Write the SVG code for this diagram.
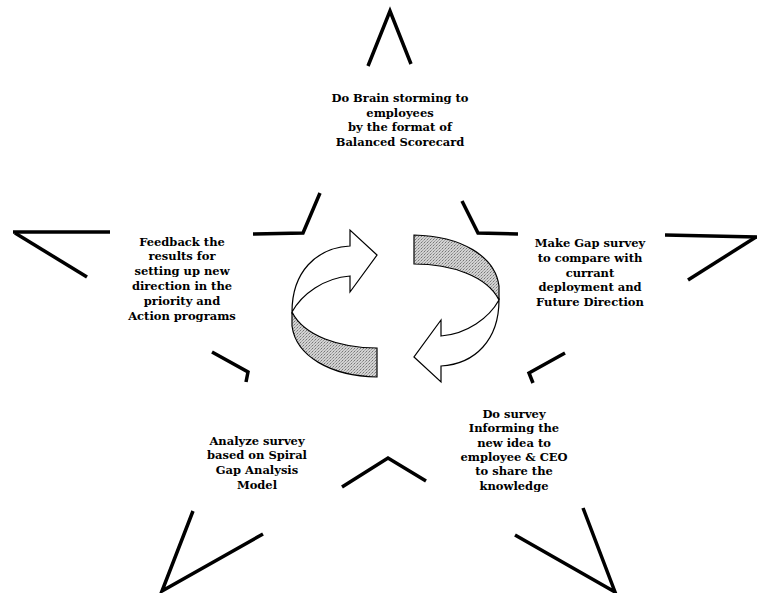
<svg xmlns="http://www.w3.org/2000/svg" xmlns:xlink="http://www.w3.org/1999/xlink" width="758" height="593" viewBox="0 0 758 593">
<style>
.star{fill:none;stroke:#000;stroke-width:3.5;stroke-linejoin:miter;stroke-miterlimit:3;stroke-linecap:butt}
.lbl{font-family:"DejaVu Serif","Liberation Serif",serif;font-weight:bold;font-size:11.5px;fill:#000;text-anchor:middle}
.wh{fill:#fff;stroke:#000;stroke-width:1.2;stroke-linejoin:miter}
.band{fill:url(#stip);stroke:#000;stroke-width:1.2}
</style>
<defs>
<pattern id="stip" width="3" height="3" patternUnits="userSpaceOnUse">
<rect width="3" height="3" fill="#d2d2d2"/>
<rect width="1" height="1" fill="#777"/>
<rect x="2" y="1" width="1" height="1" fill="#999"/>
<rect x="1" y="2" width="1" height="1" fill="#aaa"/>
</pattern>
<g id="cyc">
<path class="wh" d="M377,255 L350,230 L350,246 C 316,248 292,272 292,312 C 302,294 324,278 350,276 L350,292 Z"/>
<path class="band" d="M292,312 C 304,336 340,348 377,348 L377,377 C 330,376 296,356 292,326 Z"/>
</g>
</defs>
<rect width="758" height="593" fill="#fff"/>
<g id="star">
<polyline class="star" points="368,66 390,11 411,64"/>
<polyline class="star" points="320,193 303,233 253,234"/>
<polyline class="star" points="462,201 478,233 518,234"/>
<polyline class="star" points="110,232 13,232"/>
<polyline class="star" points="15,233 87,277"/>
<polyline class="star" points="665,235 757,237"/>
<polyline class="star" points="756,237 688,280"/>
<polyline class="star" points="212,352 248,372 246,382"/>
<polyline class="star" points="565,353 529,373 533,383"/>
<polyline class="star" points="342,487 388,458 426,481"/>
<polyline class="star" points="193,511 162,591 263,534"/>
<polyline class="star" points="583,508 615,592 515,535"/>
</g>
<g id="connectors">
<use xlink:href="#cyc"/>
<use xlink:href="#cyc" transform="rotate(180 395.5 306)"/>
</g>
<g id="node-top">
<text class="lbl" x="400" y="102">Do Brain storming to</text>
<text class="lbl" x="400" y="116.7">employees</text>
<text class="lbl" x="400" y="131.4">by the format of</text>
<text class="lbl" x="400" y="146">Balanced Scorecard</text>
</g>
<g id="node-left">
<text class="lbl" x="182" y="245.5">Feedback the</text>
<text class="lbl" x="182" y="260.4">results for</text>
<text class="lbl" x="182" y="275.3">setting up new</text>
<text class="lbl" x="182" y="290.2">direction in the</text>
<text class="lbl" x="182" y="305.1">priority and</text>
<text class="lbl" x="182" y="320">Action programs</text>
</g>
<g id="node-right">
<text class="lbl" x="590" y="247">Make Gap survey</text>
<text class="lbl" x="590" y="261.8">to compare with</text>
<text class="lbl" x="590" y="276.6">currant</text>
<text class="lbl" x="590" y="291.4">deployment and</text>
<text class="lbl" x="590" y="306.2">Future Direction</text>
</g>
<g id="node-bottom-left">
<text class="lbl" x="257" y="444.5">Analyze survey</text>
<text class="lbl" x="257" y="459.3">based on Spiral</text>
<text class="lbl" x="257" y="474.1">Gap Analysis</text>
<text class="lbl" x="257" y="488.9">Model</text>
</g>
<g id="node-bottom-right">
<text class="lbl" x="514" y="418">Do survey</text>
<text class="lbl" x="514" y="432.3">Informing the</text>
<text class="lbl" x="514" y="446.6">new idea to</text>
<text class="lbl" x="514" y="460.9">employee &amp; CEO</text>
<text class="lbl" x="514" y="475.2">to share the</text>
<text class="lbl" x="514" y="489.5">knowledge</text>
</g>
</svg>
